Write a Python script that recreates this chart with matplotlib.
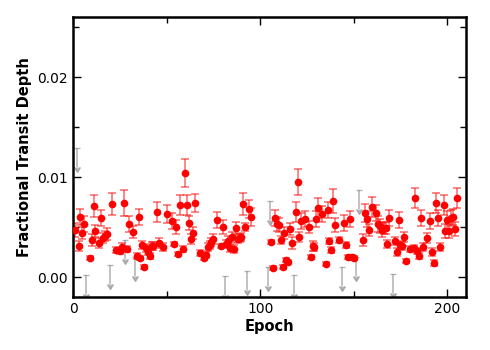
import numpy as np
import matplotlib
matplotlib.use('Agg')
import matplotlib.pyplot as plt
from matplotlib.ticker import MultipleLocator

# detected transits: epoch, fractional depth, 1-sigma error
epoch = [1, 3, 4, 5, 6, 9, 10, 11, 12, 14, 15, 16, 17, 18, 21, 23, 25, 26, 27, 29,
         30, 32, 34, 35, 36, 37, 38, 39, 40, 41, 42, 43, 45, 46, 48, 50, 53, 54, 55, 56,
         57, 59, 60, 61, 62, 63, 64, 65, 68, 70, 71, 72, 73, 74, 75, 77, 79, 80, 82, 83,
         84, 85, 86, 87, 88, 89, 90, 91, 92, 94, 95, 106, 107, 108, 109, 110, 111, 112, 113, 114,
         115, 116, 117, 119, 120, 121, 122, 124, 126, 127, 128, 129, 130, 131, 133, 135, 136, 137, 138, 139,
         140, 142, 145, 146, 147, 148, 149, 150, 155, 156, 157, 158, 160, 162, 163, 164, 165, 166, 167, 168,
         169, 172, 173, 174, 175, 176, 177, 178, 180, 182, 183, 184, 185, 186, 187, 189, 191, 192, 193, 194,
         195, 196, 198, 199, 200, 201, 202, 203, 204, 205]
depth = [0.0047, 0.0031, 0.0060, 0.0044, 0.0053, 0.0019, 0.0037, 0.0071, 0.0046, 0.0034,
         0.0059, 0.0039, 0.0041, 0.0043, 0.0073, 0.0027, 0.0026, 0.0030, 0.0074, 0.0028,
         0.0053, 0.0045, 0.0021, 0.0060, 0.0019, 0.0032, 0.0010, 0.0029, 0.0025, 0.0021,
         0.0031, 0.0031, 0.0065, 0.0034, 0.0030, 0.0063, 0.0056, 0.0033, 0.0050, 0.0023,
         0.0072, 0.0028, 0.0104, 0.0072, 0.0054, 0.0038, 0.0044, 0.0074, 0.0024, 0.0019,
         0.0022, 0.0030, 0.0032, 0.0035, 0.0038, 0.0057, 0.0031, 0.0050, 0.0033, 0.0036,
         0.0029, 0.0040, 0.0028, 0.0049, 0.0038, 0.0039, 0.0040, 0.0073, 0.0050, 0.0068,
         0.0060, 0.0035, 0.0009, 0.0059, 0.0053, 0.0052, 0.0037, 0.0010, 0.0044, 0.0017,
         0.0015, 0.0048, 0.0034, 0.0065, 0.0095, 0.0040, 0.0056, 0.0058, 0.0050, 0.0020,
         0.0031, 0.0030, 0.0058, 0.0069, 0.0063, 0.0013, 0.0067, 0.0036, 0.0027, 0.0076,
         0.0052, 0.0037, 0.0054, 0.0032, 0.0020, 0.0058, 0.0020, 0.0019, 0.0037, 0.0064,
         0.0058, 0.0047, 0.0070, 0.0064, 0.0053, 0.0051, 0.0047, 0.0049, 0.0049, 0.0033,
         0.0059, 0.0036, 0.0025, 0.0057, 0.0032, 0.0031, 0.0040, 0.0016, 0.0028, 0.0029,
         0.0079, 0.0026, 0.0021, 0.0059, 0.0030, 0.0039, 0.0056, 0.0025, 0.0014, 0.0074,
         0.0059, 0.0030, 0.0072, 0.0046, 0.0057, 0.0046, 0.0059, 0.0060, 0.0048, 0.0079]
depth_err = [0.0007, 0.0005, 0.0008, 0.0006, 0.0008, 0.0002, 0.0006, 0.0011, 0.0006, 0.0005,
             0.0008, 0.0005, 0.0005, 0.0006, 0.0011, 0.0003, 0.0003, 0.0004, 0.0013, 0.0003,
             0.0008, 0.0006, 0.0003, 0.0008, 0.0002, 0.0004, 0.0002, 0.0004, 0.0003, 0.0003,
             0.0004, 0.0004, 0.0010, 0.0005, 0.0004, 0.0009, 0.0008, 0.0002, 0.0007, 0.0002,
             0.0010, 0.0003, 0.0014, 0.0010, 0.0007, 0.0005, 0.0006, 0.0009, 0.0003, 0.0002,
             0.0003, 0.0004, 0.0004, 0.0004, 0.0005, 0.0008, 0.0002, 0.0007, 0.0004, 0.0005,
             0.0004, 0.0005, 0.0004, 0.0006, 0.0004, 0.0004, 0.0004, 0.0011, 0.0004, 0.0009,
             0.0009, 0.0002, 0.0002, 0.0008, 0.0007, 0.0007, 0.0004, 0.0002, 0.0006, 0.0002,
             0.0002, 0.0006, 0.0006, 0.0010, 0.0013, 0.0005, 0.0008, 0.0008, 0.0006, 0.0002,
             0.0005, 0.0004, 0.0008, 0.0010, 0.0008, 0.0002, 0.0008, 0.0003, 0.0003, 0.0012,
             0.0007, 0.0003, 0.0008, 0.0003, 0.0002, 0.0008, 0.0002, 0.0002, 0.0006, 0.0009,
             0.0008, 0.0006, 0.0010, 0.0008, 0.0008, 0.0007, 0.0007, 0.0006, 0.0006, 0.0004,
             0.0008, 0.0004, 0.0004, 0.0008, 0.0004, 0.0004, 0.0005, 0.0002, 0.0003, 0.0003,
             0.0010, 0.0003, 0.0003, 0.0008, 0.0004, 0.0005, 0.0008, 0.0004, 0.0003, 0.0010,
             0.0008, 0.0004, 0.0010, 0.0007, 0.0009, 0.0007, 0.0008, 0.0008, 0.0007, 0.0010]

# non-detections (upper limits)
ul_epoch = [2, 7, 20, 28, 33, 81, 93, 104, 105, 118, 144, 151, 153, 171]
ul_depth = [0.0129, 0.0002, 0.0012, 0.0037, 0.0020, 0.0001, 0.0006, 0.0010, 0.0076,
            0.0002, 0.0010, 0.0020, 0.0087, 0.0003]
ul_len = 0.0019

fig = plt.figure(figsize=(4.9, 3.5), dpi=100)
ax = fig.add_axes([0.149, 0.151, 0.802, 0.8])

# upper limits: grey down arrows
ax.errorbar(ul_epoch, ul_depth, yerr=ul_len, uplims=True, fmt='none',
            color='#888888', ecolor='#888888', alpha=0.6, elinewidth=1.2,
            capsize=2.3, capthick=1.0)

# detections
ax.errorbar(epoch, depth, yerr=depth_err, fmt='none', ecolor='red', alpha=0.55,
            elinewidth=1.2, capsize=3, capthick=1.2)
ax.plot(epoch, depth, 'o', color='red', ms=4.5, mec='red', zorder=3)

ax.set_xlim(0, 210)
ax.set_ylim(-0.002, 0.026)
ax.xaxis.set_major_locator(MultipleLocator(100))
ax.xaxis.set_minor_locator(MultipleLocator(50))
ax.yaxis.set_major_locator(MultipleLocator(0.01))
ax.yaxis.set_minor_locator(MultipleLocator(0.005))
ax.yaxis.set_major_formatter(matplotlib.ticker.FormatStrFormatter('%.2f'))

ax.tick_params(which='both', direction='in', top=True, right=True, labelsize=10)
ax.tick_params(which='major', length=6, width=1)
ax.tick_params(which='minor', length=4, width=1)
for s in ax.spines.values():
    s.set_linewidth(1.8)

ax.set_xlabel('Epoch', fontsize=10.5, fontweight='bold', labelpad=2)
ax.set_ylabel('Fractional Transit Depth', fontsize=10.5, fontweight='bold', labelpad=4)

fig.savefig('out.png', dpi=100)
